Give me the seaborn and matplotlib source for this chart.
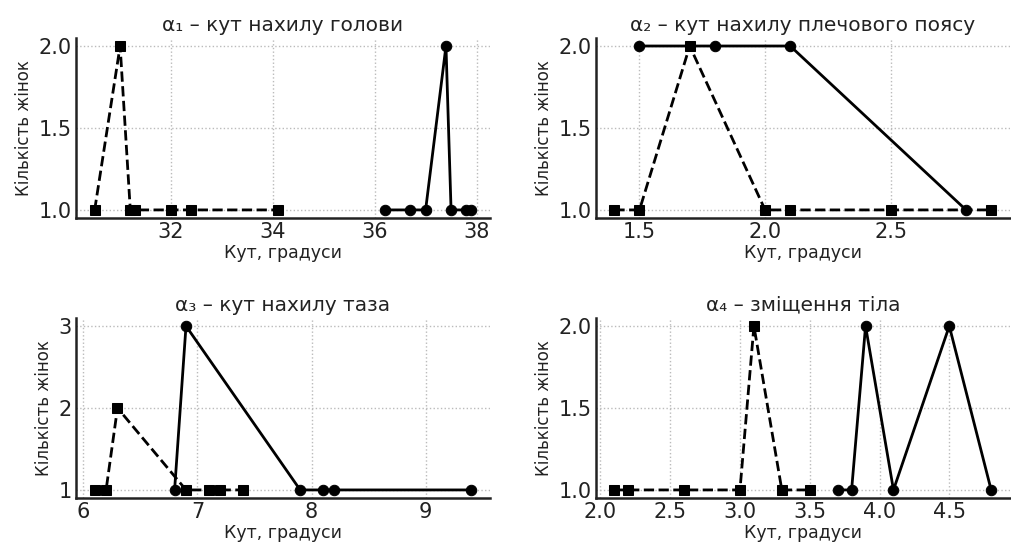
import numpy as np
import pandas as pd
import matplotlib
matplotlib.use('Agg')
import matplotlib.pyplot as plt
import seaborn as sns

# alpha1 - head tilt
a1_sq_x = [30.5, 31.0, 31.2, 31.3, 32.0, 32.4, 34.1]
a1_sq_y = [1, 2, 1, 1, 1, 1, 1]
a1_ci_x = [36.2, 36.7, 37.0, 37.4, 37.5, 37.8, 37.9]
a1_ci_y = [1, 1, 1, 2, 1, 1, 1]

# alpha2 - shoulder girdle tilt
a2_sq_x = [1.4, 1.5, 1.7, 2.0, 2.1, 2.5, 2.9]
a2_sq_y = [1, 1, 2, 1, 1, 1, 1]
a2_ci_x = [1.5, 1.8, 2.1, 2.8]
a2_ci_y = [2, 2, 2, 1]

# alpha3 - pelvis tilt
a3_sq_x = [6.1, 6.2, 6.3, 6.9, 7.1, 7.2, 7.4]
a3_sq_y = [1, 1, 2, 1, 1, 1, 1]
a3_ci_x = [6.8, 6.9, 7.9, 8.1, 8.2, 9.4]
a3_ci_y = [1, 3, 1, 1, 1, 1]

# alpha4 - body shift
a4_sq_x = [2.1, 2.2, 2.6, 3.0, 3.1, 3.3, 3.5]
a4_sq_y = [1, 1, 1, 1, 2, 1, 1]
a4_ci_x = [3.7, 3.8, 3.9, 4.1, 4.5, 4.8]
a4_ci_y = [1, 1, 2, 1, 2, 1]

titles = ['α₁ – кут нахилу голови', 'α₂ – кут нахилу плечового поясу',
          'α₃ – кут нахилу таза', 'α₄ – зміщення тіла']
xticks = [[32, 34, 36, 38], [1.5, 2.0, 2.5], [6, 7, 8, 9], [2.0, 2.5, 3.0, 3.5, 4.0, 4.5]]
yticks = [[1.0, 1.5, 2.0], [1.0, 1.5, 2.0], [1, 2, 3], [1.0, 1.5, 2.0]]

panels = [
    (a1_sq_x, a1_sq_y, a1_ci_x, a1_ci_y),
    (a2_sq_x, a2_sq_y, a2_ci_x, a2_ci_y),
    (a3_sq_x, a3_sq_y, a3_ci_x, a3_ci_y),
    (a4_sq_x, a4_sq_y, a4_ci_x, a4_ci_y),
]

sns.set_theme(style='whitegrid')
plt.rcParams['font.family'] = ['DejaVu Sans']

fig, axes = plt.subplots(2, 2, figsize=(10.11, 5.48), dpi=100)
fig.subplots_adjust(left=0.075, right=0.999, top=0.931, bottom=0.091, wspace=0.254, hspace=0.553)

for i, ax in enumerate(axes.flat):
    sq_x, sq_y, ci_x, ci_y = panels[i]
    sq = pd.DataFrame({'x': sq_x, 'y': sq_y})
    ci = pd.DataFrame({'x': ci_x, 'y': ci_y})
    sns.lineplot(data=sq, x='x', y='y', ax=ax, color='black', marker='s', linestyle='--',
                 linewidth=2, markersize=7.5, markeredgecolor='black', estimator=None)
    sns.lineplot(data=ci, x='x', y='y', ax=ax, color='black', marker='o', linestyle='-',
                 linewidth=2, markersize=7.5, markeredgecolor='black', estimator=None)
    ax.set_title(titles[i], fontsize=14.5, pad=5, color='#222222')
    ax.set_xlabel('Кут, градуси', fontsize=12.5, labelpad=1, color='#222222')
    ax.set_ylabel('Кількість жінок', fontsize=12, labelpad=4, color='#222222')
    ax.set_xticks(xticks[i])
    ax.set_yticks(yticks[i])
    ax.tick_params(labelsize=15, direction='in', length=3, color='#333333', pad=3,
                   labelcolor='#222222')
    ax.grid(True, linestyle=':', color='#bbbbbb', linewidth=1)
    ax.set_facecolor('white')
    sns.despine(ax=ax)
    for s in ['left', 'bottom']:
        ax.spines[s].set_color('#222222')
        ax.spines[s].set_linewidth(1.8)

fig.savefig('out.png', dpi=100, facecolor='white')
